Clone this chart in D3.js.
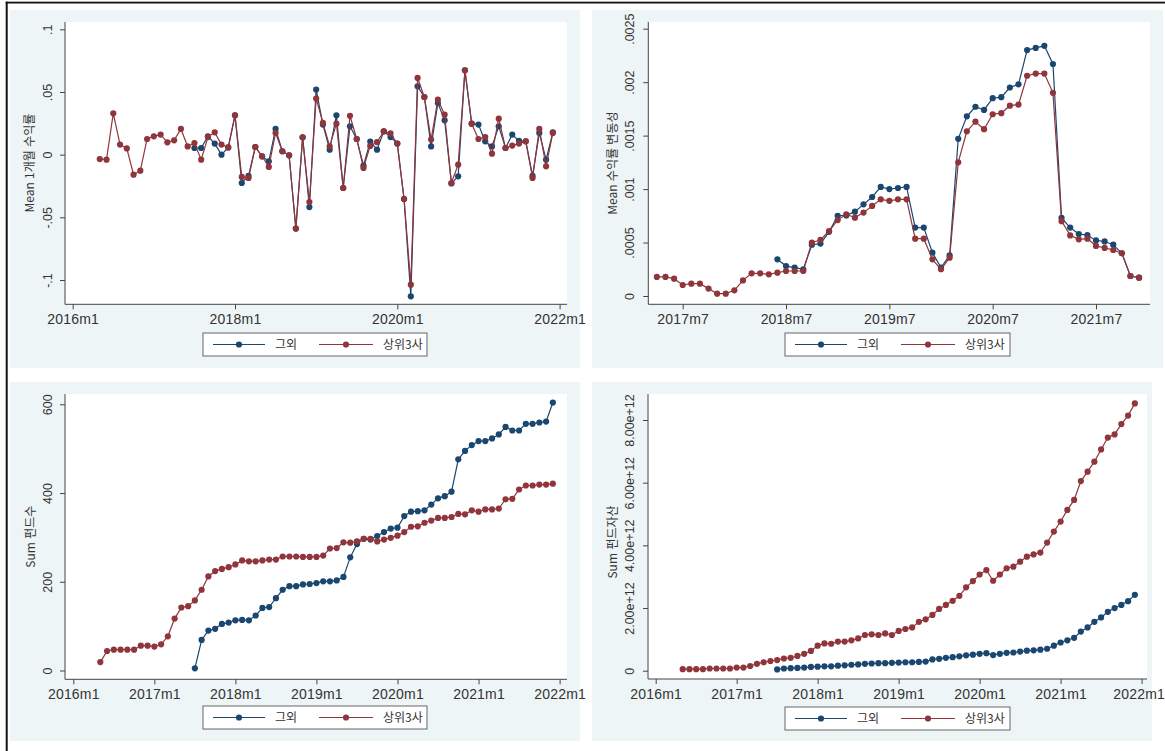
<!DOCTYPE html>
<html lang="ko">
<head>
  <meta charset="utf-8">
  <title>상위3사 vs 그외</title>
  <style>
    body { margin: 0; background: #fff; }
    text { font-family: "Liberation Sans", Arial, "Noto Sans CJK KR", sans-serif; fill: #333; }
    .ko { font-family: "Noto Sans CJK KR", "Liberation Sans", sans-serif; }
  </style>
</head>
<body>
  <svg width="1165" height="751"></svg>
  <script src="https://d3js.org/d3.v7.min.js"></script>
  <script>
    // month index t: 0 = 2016m1
    var seriesNames = ["그외", "상위3사"];

    // Mean 1개월 수익률
    var retOtherStart = 18;
    var retOther = [0.0053, 0.0053, 0.0146, 0.0088, 0.0, 0.0058, 0.0314, -0.0226, -0.017, 0.0061,
      -0.0013, -0.0053, 0.0205, 0.0027, -0.0005, -0.059, 0.0138, -0.0418, 0.0519, 0.024,
      0.004, 0.0314, -0.0266, 0.0226, 0.0125, -0.0088, 0.0105, 0.004, 0.0186, 0.014,
      0.0088, -0.0354, -0.113, 0.0545, 0.046, 0.0066, 0.0412, 0.0274, -0.023, -0.0173,
      0.0673, 0.0247, 0.024, 0.0106, 0.0066, 0.0226, 0.0053, 0.016, 0.011, 0.0106,
      -0.017, 0.0173, -0.004, 0.0178];
    var retTop3Start = 4;
    var retTop3 = [-0.0035, -0.004, 0.033, 0.008, 0.005, -0.016, -0.0128, 0.0125, 0.0146, 0.016,
      0.0098, 0.0114, 0.0205, 0.0066, 0.0093, -0.004, 0.014, 0.0178, 0.008, 0.0058,
      0.0314, -0.0178, -0.0186, 0.0061, -0.0013, -0.0098, 0.0173, 0.0027, -0.0005, -0.059,
      0.0138, -0.0378, 0.0447, 0.0253, 0.0066, 0.0247, -0.0266, 0.031, 0.0125, -0.0106,
      0.007, 0.010, 0.0186, 0.017, 0.0088, -0.0354, -0.1037, 0.0612, 0.046, 0.012,
      0.0439, 0.0319, -0.0226, -0.008, 0.0673, 0.0247, 0.0125, 0.014, 0.0008, 0.0287,
      0.0053, 0.0072, 0.0088, 0.0106, -0.0186, 0.0205, -0.0093, 0.0173];

    // Mean 수익률 변동성
    var volOtherStart = 29;
    var volOther = [0.000343, 0.00028, 0.000265, 0.00025, 0.00048, 0.00049, 0.0006, 0.00075, 0.000754, 0.000789,
      0.000857, 0.000926, 0.00102, 0.001, 0.00101, 0.00102, 0.00064, 0.00064, 0.000405, 0.000265,
      0.00038, 0.00147, 0.00168, 0.00177, 0.00174, 0.00185, 0.00186, 0.00195, 0.00198, 0.0023,
      0.00232, 0.00234, 0.00217, 0.00073, 0.00064, 0.00058, 0.00057, 0.00052, 0.00051, 0.00048,
      0.0004, 0.000187, 0.000171];
    var volTop3Start = 15;
    var volTop3 = [0.000178, 0.000178, 0.000162, 0.000103, 0.000115, 0.000115, 0.000069, 0.000022, 0.000022, 0.000053,
      0.000146, 0.000212, 0.000212, 0.000203, 0.000218, 0.000234, 0.000234, 0.000234, 0.0005, 0.000524,
      0.000608, 0.00071, 0.000764, 0.000733, 0.00078, 0.000842, 0.000904, 0.00089, 0.000904, 0.000904,
      0.000536, 0.000536, 0.000343, 0.00025, 0.000358, 0.00125, 0.00154, 0.00163, 0.00156, 0.0017,
      0.00171, 0.00178, 0.00179, 0.00206, 0.00208, 0.00208, 0.0019, 0.0007, 0.000567, 0.00053,
      0.000536, 0.000468, 0.00045, 0.00043, 0.0004, 0.000187, 0.000171];

    // Sum 펀드수
    var fundsOtherStart = 18;
    var fundsOther = [5, 69, 90, 94, 105, 108, 113, 114, 113, 124,
      141, 143, 163, 182, 190, 190, 194, 195, 197, 201,
      201, 203, 211, 255, 285, 297, 295, 303, 312, 320,
      322, 348, 358, 359, 361, 374, 388, 393, 403, 476,
      495, 508, 517, 517, 523, 532, 549, 541, 541, 556,
      556, 559, 561, 604];
    var fundsTop3Start = 4;
    var fundsTop3 = [19, 44, 47, 47, 47, 47, 56, 56, 54, 59,
      77, 117, 142, 145, 158, 182, 212, 224, 229, 233,
      239, 248, 246, 246, 248, 250, 250, 257, 257, 257,
      256, 256, 256, 259, 275, 276, 289, 288, 291, 297,
      297, 291, 295, 299, 304, 312, 324, 325, 333, 338,
      344, 344, 346, 353, 352, 361, 358, 363, 363, 365,
      386, 387, 408, 417, 417, 419, 419, 421];

    // Sum 펀드자산 (단위 1e12)
    var assetsOtherStart = 18;
    var assetsOther = [0.04, 0.07, 0.08, 0.09, 0.1, 0.12, 0.13, 0.14, 0.14, 0.16,
      0.17, 0.19, 0.2, 0.22, 0.23, 0.24, 0.24, 0.25, 0.26, 0.27,
      0.27, 0.28, 0.29, 0.36, 0.38, 0.41, 0.43, 0.46, 0.49, 0.51,
      0.54, 0.56, 0.5, 0.54, 0.57, 0.58, 0.61, 0.64, 0.65, 0.67,
      0.7, 0.8, 0.9, 0.97, 1.05, 1.25, 1.38, 1.56, 1.7, 1.88,
      2.0, 2.1, 2.22, 2.42];
    var assetsTop3Start = 4;
    var assetsTop3 = [0.05, 0.05, 0.05, 0.05, 0.07, 0.07, 0.07, 0.07, 0.1, 0.1,
      0.15, 0.22, 0.27, 0.31, 0.34, 0.39, 0.41, 0.47, 0.54, 0.63,
      0.8, 0.87, 0.86, 0.93, 0.93, 0.97, 1.03, 1.14, 1.16, 1.14,
      1.19, 1.14, 1.27, 1.33, 1.38, 1.56, 1.64, 1.78, 1.97, 2.1,
      2.23, 2.39, 2.66, 2.86, 3.07, 3.21, 2.87, 3.07, 3.27, 3.32,
      3.48, 3.64, 3.71, 3.77, 4.09, 4.44, 4.76, 5.13, 5.45, 6.05,
      6.35, 6.67, 7.06, 7.44, 7.54, 7.87, 8.14, 8.53];

    var xTicksYearly2 = [0, 24, 48, 72];
    var xTicksJuly = [18, 30, 42, 54, 66];
    var xTicksYearly = [0, 12, 24, 36, 48, 60, 72];
    var yTicksRet = [-0.1, -0.05, 0, 0.05, 0.1];
    var yTicksVol = [0, 0.0005, 0.001, 0.0015, 0.002, 0.0025];
    var yTicksFunds = [0, 200, 400, 600];
    var yTicksAssets = [0, 2, 4, 6, 8];

    var colors = ["#1a476f", "#90353b"];
    var svg = d3.select("svg");

    // frame edges of the screenshot
    svg.append("rect").attr("x", 5.7).attr("y", 1.7).attr("width", 1160).attr("height", 1.8).attr("fill", "#111");
    svg.append("rect").attr("x", 5.7).attr("y", 1.7).attr("width", 2).attr("height", 750).attr("fill", "#111");

    function pts(start, vals) {
      return vals.map(function (v, i) { return { t: start + i, v: v }; });
    }

    function monthLabel(t) {
      return (2016 + Math.floor(t / 12)) + "m" + (t % 12 + 1);
    }

    function stataNum(v) {
      return v === 0 ? "0" : String(v).replace("0.", ".");
    }

    function drawPanel(cfg) {
      var g = svg.append("g");
      var p = cfg.plot;

      g.append("rect")
        .attr("x", cfg.bg[0]).attr("y", cfg.bg[1])
        .attr("width", cfg.bg[2] - cfg.bg[0]).attr("height", cfg.bg[3] - cfg.bg[1])
        .attr("fill", "#eef5f6");
      g.append("rect")
        .attr("x", p.left).attr("y", p.top)
        .attr("width", p.right - p.left).attr("height", p.bottom - p.top)
        .attr("fill", "#fff");

      var x = d3.scaleLinear().domain(cfg.xDomain).range(cfg.xRange);
      var y = d3.scaleLinear().domain(cfg.yDomain).range(cfg.yRange);

      // x axis
      var xa = g.append("g")
        .attr("transform", "translate(0," + p.bottom + ")")
        .call(d3.axisBottom(x).tickValues(cfg.xTicks).tickFormat(monthLabel).tickSize(5).tickSizeOuter(0));
      xa.select(".domain").remove();
      xa.selectAll(".tick line").attr("stroke", "#444");
      xa.selectAll(".tick text").attr("y", 20).attr("dy", 0)
        .style("font-size", "14px").style("letter-spacing", "0.2px").attr("fill", "#333");
      if (cfg.lastLabelShift) {
        xa.selectAll(".tick text").filter(function (d) { return d === 72; }).attr("x", cfg.lastLabelShift);
      }

      // y axis with vertical labels
      var ya = g.append("g")
        .attr("transform", "translate(" + p.left + ",0)")
        .call(d3.axisLeft(y).tickValues(cfg.yTicks).tickFormat(cfg.yFormat).tickSize(5).tickSizeOuter(0));
      ya.select(".domain").remove();
      ya.selectAll(".tick line").attr("stroke", "#444");
      ya.selectAll(".tick text")
        .attr("x", 0).attr("dy", 0)
        .attr("text-anchor", "middle")
        .attr("transform", "translate(" + (cfg.yLabelX - p.left) + ",0) rotate(-90)")
        .style("font-size", "12.5px").attr("fill", "#333");

      g.append("line").attr("x1", p.left).attr("x2", p.right).attr("y1", p.bottom).attr("y2", p.bottom)
        .attr("stroke", "#444");
      g.append("line").attr("x1", p.left).attr("x2", p.left).attr("y1", p.top).attr("y2", p.bottom)
        .attr("stroke", "#444");

      // y title
      var ty = cfg.titleY || (p.top + p.bottom) / 2;
      g.append("text")
        .attr("transform", "translate(" + cfg.titleX + "," + ty + ") rotate(-90)")
        .attr("text-anchor", "middle")
        .attr("class", "ko")
        .style("font-size", "12px")
        .text(cfg.title);

      // series
      var line = d3.line().x(function (d) { return x(d.t); }).y(function (d) { return y(d.v); });
      cfg.series.forEach(function (s, i) {
        g.append("path").datum(s).attr("d", line)
          .attr("fill", "none").attr("stroke", colors[i]).attr("stroke-width", 1.2);
        g.selectAll(".m" + i).data(s).enter().append("circle")
          .attr("class", "m" + i)
          .attr("cx", function (d) { return x(d.t); })
          .attr("cy", function (d) { return y(d.v); })
          .attr("r", 3.1)
          .attr("fill", colors[i]);
      });

      // legend
      var L = cfg.legend;
      var lg = g.append("g").attr("transform", "translate(" + L[0] + "," + L[1] + ")");
      lg.append("rect").attr("width", L[2]).attr("height", L[3])
        .attr("fill", "#fff").attr("stroke", "#666").attr("stroke-width", 1);
      var mid = L[3] / 2;
      [[10, 62, 36, 72], [116, 170, 143, 180]].forEach(function (o, i) {
        lg.append("line").attr("x1", o[0]).attr("x2", o[1]).attr("y1", mid).attr("y2", mid)
          .attr("stroke", colors[i]).attr("stroke-width", 1.2);
        lg.append("circle").attr("cx", o[2]).attr("cy", mid).attr("r", 3.1).attr("fill", colors[i]);
        lg.append("text").attr("x", o[3]).attr("y", mid + 4.5)
          .attr("class", "ko").style("font-size", "12px").attr("fill", "#555")
          .text(seriesNames[i]);
      });
    }

    drawPanel({
      bg: [10, 10, 580, 368],
      plot: { left: 65, top: 22, right: 567, bottom: 304.3 },
      xDomain: [0, 72], xRange: [72.7, 559.6],
      yDomain: [-0.1, 0.1], yRange: [280, 29.3],
      xTicks: xTicksYearly2, yTicks: yTicksRet, yFormat: stataNum,
      yLabelX: 51.5, titleX: 34, title: "Mean 1개월 수익률",
      legend: [203, 333, 224, 23],
      series: [pts(retOtherStart, retOther), pts(retTop3Start, retTop3)]
    });

    drawPanel({
      bg: [592, 10, 1163, 368],
      plot: { left: 648.3, top: 22, right: 1150, bottom: 304.3 },
      xDomain: [18, 66], xRange: [682.7, 1096],
      yDomain: [0, 0.0025], yRange: [296, 28.7],
      xTicks: xTicksJuly, yTicks: yTicksVol, yFormat: stataNum,
      yLabelX: 634, titleX: 617, title: "Mean 수익률 변동성",
      legend: [785, 333, 225, 23],
      series: [pts(volOtherStart, volOther), pts(volTop3Start, volTop3)]
    });

    drawPanel({
      bg: [10, 382, 580, 741],
      plot: { left: 65, top: 394, right: 567, bottom: 679.3 },
      xDomain: [0, 72], xRange: [73.3, 559.6],
      yDomain: [0, 600], yRange: [670.5, 404.3],
      xTicks: xTicksYearly, yTicks: yTicksFunds, yFormat: function (v) { return String(v); },
      yLabelX: 51.5, titleX: 35, title: "Sum 펀드수",
      legend: [203, 706, 224, 23],
      series: [pts(fundsOtherStart, fundsOther), pts(fundsTop3Start, fundsTop3)]
    });

    drawPanel({
      bg: [592, 382, 1152, 741],
      plot: { left: 648, top: 394, right: 1147, bottom: 679 },
      xDomain: [0, 72], xRange: [655.7, 1141.6],
      yDomain: [0, 8], yRange: [670.7, 420],
      xTicks: xTicksYearly, yTicks: yTicksAssets,
      yFormat: function (v) { return v === 0 ? "0" : v.toFixed(2) + "e+12"; },
      yLabelX: 634, titleX: 617, titleY: 542, title: "Sum 펀드자산",
      legend: [785, 707, 225, 23],
      series: [pts(assetsOtherStart, assetsOther), pts(assetsTop3Start, assetsTop3)],
      lastLabelShift: -3
    });
  </script>
</body>
</html>
